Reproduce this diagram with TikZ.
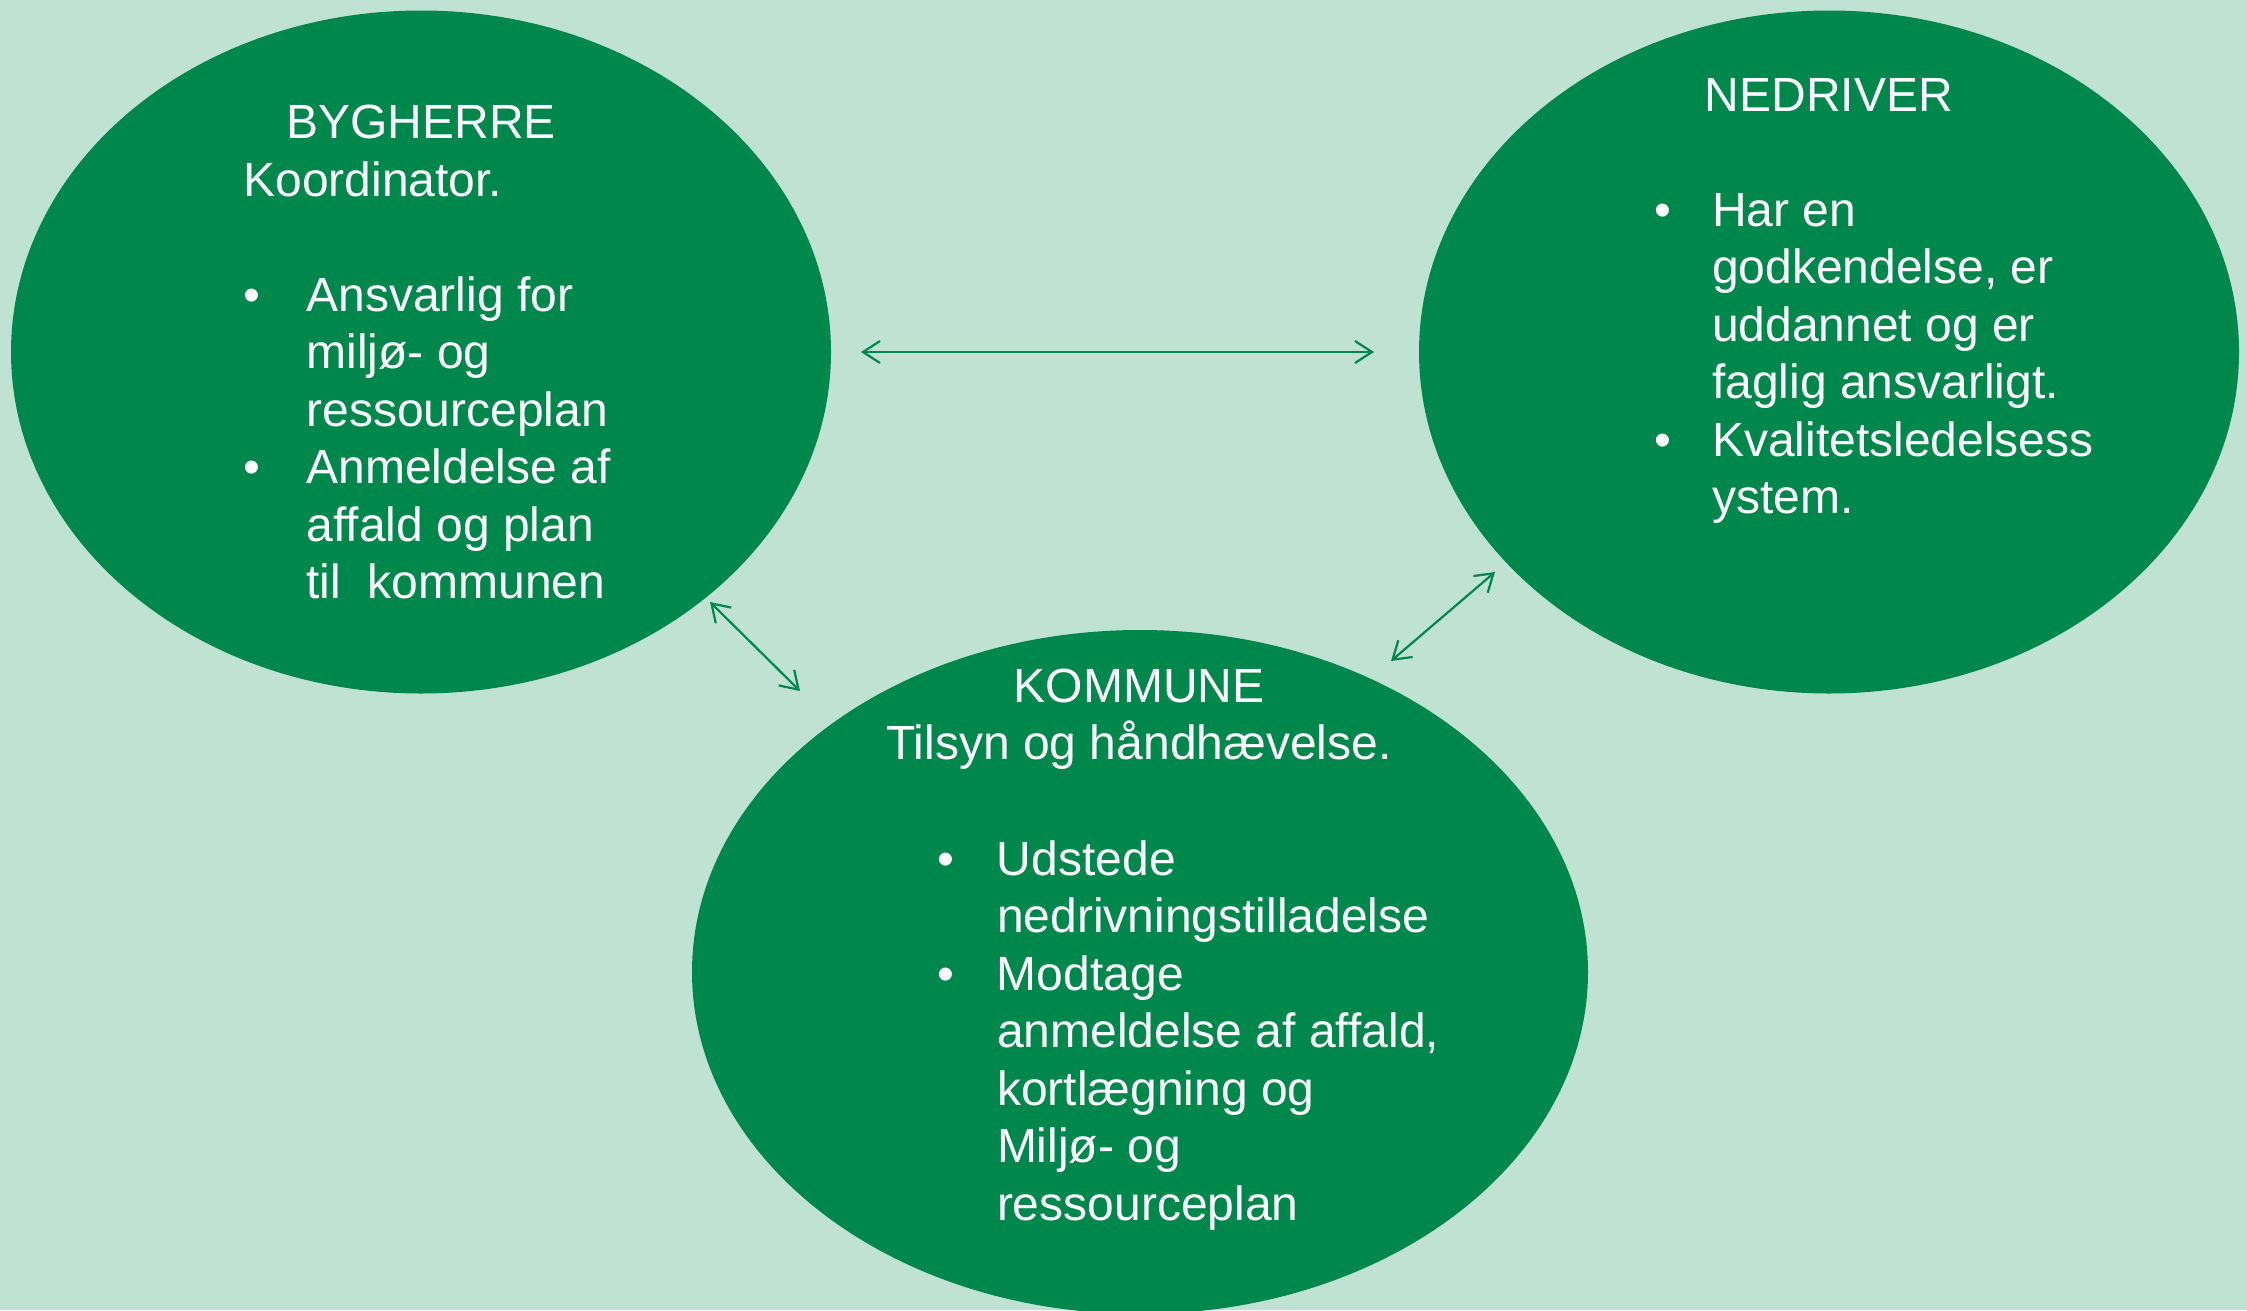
\documentclass[tikz,border=0pt]{standalone}
\usepackage{fontspec}
\setmainfont{Liberation Sans}
\usetikzlibrary{shapes.geometric,arrows.meta}
\definecolor{bgcol}{HTML}{BFE2D3}
\definecolor{grn}{HTML}{00874B}
\tikzset{
  blob/.style={ellipse, fill=grn, draw=none, inner sep=0pt, outer sep=0pt},
  txt/.style={text=white, inner sep=0pt, outer sep=0pt, font=\fontsize{48}{57.5}\selectfont},
  link/.style={draw=grn, line width=2.2pt, {Straight Barb[length=17pt,width=22pt,line width=2.2pt]}-{Straight Barb[length=17pt,width=22pt,line width=2.2pt]}}
}
\begin{document}
\begin{tikzpicture}[x=1pt,y=-1pt]
\useasboundingbox (0,0) rectangle (2247,1310);
\fill[bgcol] (0,0) rectangle (2247,1310);
% ellipses
\node[blob, minimum width=820pt, minimum height=683pt] (byg) at (421,352) {};
\node[blob, minimum width=820pt, minimum height=683pt] (ned) at (1829,352) {};
\node[blob, minimum width=896pt, minimum height=684pt] (kom) at (1140,972) {};
% left text
\node[txt, anchor=base] (bygtitle) at (421,138) {BYGHERRE};
\node[txt, anchor=base west] (bygbody) at (243.5,196) {\begin{tabular}[t]{@{}p{63pt}@{}l@{}}
\multicolumn{2}{@{}l@{}}{Koordinator.}\\
\\
•&Ansvarlig for\\
&miljø- og\\
&ressourceplan\\
•&Anmeldelse af\\
&affald og plan\\
&til\ \ kommunen
\end{tabular}};
% right text
\node[txt, anchor=base] (nedtitle) at (1829,111.5) {NEDRIVER};
\node[txt, anchor=base west] (nedbody) at (1654,226) {\begin{tabular}[t]{@{}p{58pt}@{}l@{}}
•&Har en\\
&godkendelse, er\\
&uddannet og er\\
&faglig ansvarligt.\\
•&Kvalitetsledelsess\\
&ystem.
\end{tabular}};
% bottom text
\node[txt, anchor=base] (komtitle) at (1139,702) {KOMMUNE};
\node[txt, anchor=base] (komsub) at (1139,759.5) {Tilsyn og håndhævelse.};
\node[txt, anchor=base west] (kombody) at (937,875) {\begin{tabular}[t]{@{}p{60pt}@{}l@{}}
•&Udstede\\
&nedrivningstilladelse\\
•&Modtage\\
&anmeldelse af affald,\\
&kortlægning og\\
&Miljø- og\\
&ressourceplan
\end{tabular}};
% connectors
\coordinate (h1) at (861,352);
\coordinate (h2) at (1374,352);
\coordinate (l1) at (710,602);
\coordinate (l2) at (800,691);
\coordinate (r1) at (1495,572);
\coordinate (r2) at (1391,661);
\draw[link] (h1) -- (h2);
\draw[link] (l1) -- (l2);
\draw[link] (r1) -- (r2);
\end{tikzpicture}
\end{document}
